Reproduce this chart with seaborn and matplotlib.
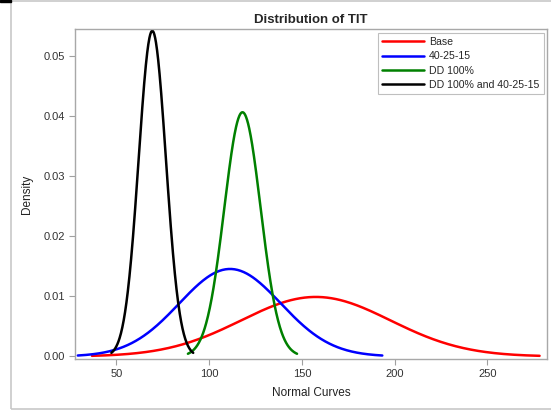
import numpy as np
import pandas as pd
import matplotlib
matplotlib.use("Agg")
import matplotlib.pyplot as plt
from matplotlib.patches import Rectangle
from matplotlib.lines import Line2D
import seaborn as sns

# Fitted normal parameters for each scenario
groups = ["Base", "40-25-15", "DD 100%", "DD 100% and 40-25-15"]
means = [157.5, 111.3, 118.0, 69.4]
sds = [40.2, 27.35, 9.8, 7.35]
colors = ["#ff0000", "#0000ff", "#008000", "#000000"]

x_ticks = [50, 100, 150, 200, 250]
y_ticks = [0.00, 0.01, 0.02, 0.03, 0.04, 0.05]

# Density curves drawn over mean +/- 3 sd
frames = []
for g, m, s in zip(groups, means, sds):
    x = np.linspace(m - 3 * s, m + 3 * s, 300)
    d = np.exp(-0.5 * ((x - m) / s) ** 2) / (s * np.sqrt(2 * np.pi))
    frames.append(pd.DataFrame({"x": x, "Density": d, "Group": g}))
df = pd.concat(frames, ignore_index=True)

sns.set_style("white")
plt.rcParams["font.family"] = ["Liberation Sans", "DejaVu Sans"]

fig = plt.figure(figsize=(5.51, 4.12), dpi=100)
ax = fig.add_axes([75 / 551, 1 - 359.3 / 412, 472 / 551, 329.8 / 412])

sns.lineplot(data=df, x="x", y="Density", hue="Group", hue_order=groups,
             palette=dict(zip(groups, colors)), linewidth=1.8, ax=ax,
             legend=False, sort=False, estimator=None)

ax.set_xlim(27.75, 282.1)
ax.set_ylim(-0.00047, 0.0545)
ax.set_xticks(x_ticks)
ax.set_yticks(y_ticks)
ax.set_yticklabels([f"{v:.2f}" for v in y_ticks])
ax.tick_params(axis="both", which="both", direction="out", length=4, width=0.8,
               color="#a0a0a0", labelsize=8, labelcolor="#333333", pad=3,
               bottom=True, left=True)
for sp in ax.spines.values():
    sp.set_color("#a8a8a8")
    sp.set_linewidth(1.0)
ax.set_xlabel("Normal Curves", fontsize=8.5, color="#222222", labelpad=6)
ax.set_ylabel("Density", fontsize=8.5, color="#222222", labelpad=8)
ax.set_title("Distribution of TIT", fontsize=9.5, fontweight="bold", pad=5)

handles = [Line2D([], [], color=c, linewidth=1.8) for c in colors]
leg = ax.legend(handles, groups, loc="upper right", fontsize=7.6, frameon=True,
                fancybox=False, handlelength=4.0, handletextpad=0.5,
                labelspacing=0.42, borderpad=0.4, borderaxespad=0.3,
                bbox_to_anchor=(1.0, 1.0))
leg.get_frame().set_edgecolor("#b0b0b0")
leg.get_frame().set_linewidth(0.8)

# Outer frame of the graph area
fig.patches.append(Rectangle((11 / 551, 3 / 412), 542 / 551, 408 / 412,
                             transform=fig.transFigure, fill=False,
                             edgecolor="#c8c8c8", linewidth=1.2))
fig.patches.append(Rectangle((0, 410 / 412), 11 / 551, 2 / 412,
                             transform=fig.transFigure, color="black"))

fig.savefig("out.png", dpi=100)
